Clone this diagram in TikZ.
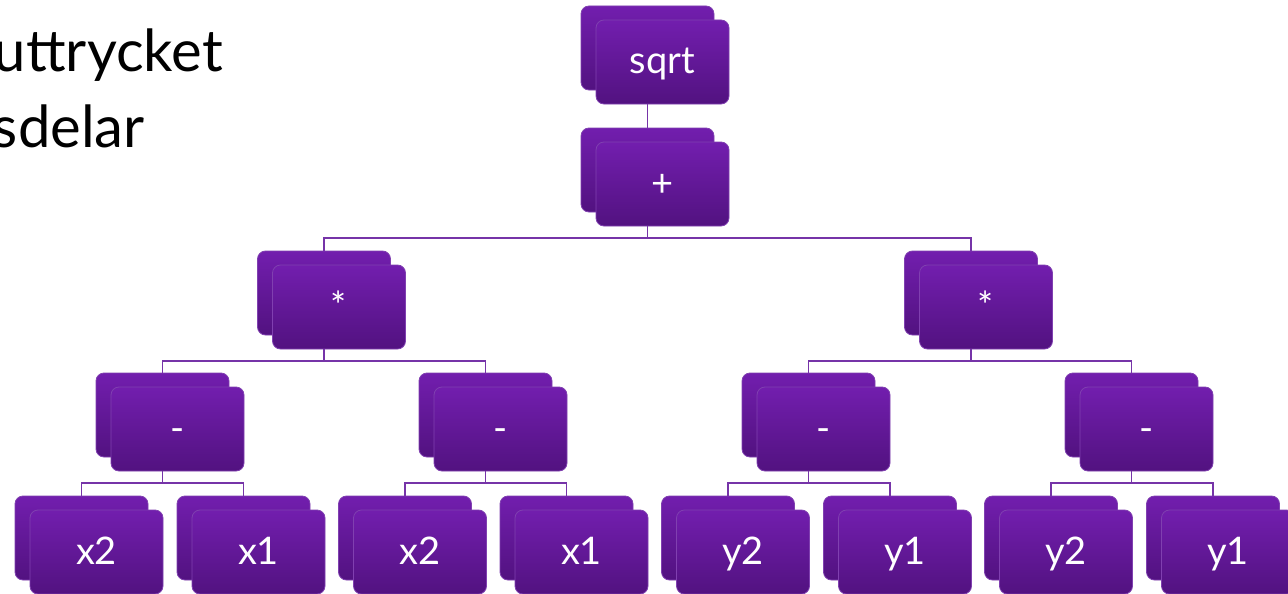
\documentclass[tikz,border=0pt]{standalone}
\usepackage{fontspec}
\setmainfont{Lato}
\definecolor{ptop}{RGB}{114,30,174}
\definecolor{pbot}{RGB}{82,18,128}
\definecolor{pedge}{RGB}{128,64,176}
\definecolor{pline}{RGB}{118,52,168}
\tikzset{
  backbox/.style={rounded corners=8pt, minimum width=133pt, minimum height=84pt,
    top color=ptop, bottom color=pbot, draw=pedge, line width=0.8pt, inner sep=0pt},
  frontbox/.style={backbox, text=white, font=\fontsize{38}{40}\selectfont,
    text height=24pt, text depth=0pt},
  conn/.style={draw=pline, line width=1.4pt},
  title/.style={font=\fontsize{58}{64}\selectfont, text=black, inner sep=0pt}
}
\newcommand{\tnode}[4]{%
  \node[backbox] (#1b) at (#2,#3) {};
  \node[frontbox] (#1) at (#2+15,#3+14) {#4};}
\newcommand{\tlink}[2]{%
  \draw[conn] (#1b |- #1.south) -- ([yshift=-11.5pt]#1b |- #1.south) -| (#2b.north);}
\begin{document}
\begin{tikzpicture}[x=1pt,y=-1pt]
\useasboundingbox (0,0) rectangle (1288,594);
\begin{scope}
\clip (0,0) rectangle (1288,594);
\node[title, anchor=base east] (t1) at (223,72) {uttrycket};
\node[title, anchor=base east] (t2) at (145,147) {sdelar};
\tnode{r}{647.5}{48}{sqrt}
\tnode{p}{647.5}{170}{+}
\tnode{ma}{324}{293}{*}
\tnode{mb}{971}{293}{*}
\tnode{sa}{162.5}{415}{-}
\tnode{sb}{485.5}{415}{-}
\tnode{sc}{808.5}{415}{-}
\tnode{sd}{1131.5}{415}{-}
\tnode{la}{81.5}{538}{x2}
\tnode{lb}{243.5}{538}{x1}
\tnode{lc}{405}{538}{x2}
\tnode{ld}{566.5}{538}{x1}
\tnode{le}{728}{538}{y2}
\tnode{lf}{890}{538}{y1}
\tnode{lg}{1051}{538}{y2}
\tnode{lh}{1213}{538}{y1}
\draw[conn] (rb |- r.south) -- (pb.north);
\tlink{p}{ma}\tlink{p}{mb}
\tlink{ma}{sa}\tlink{ma}{sb}
\tlink{mb}{sc}\tlink{mb}{sd}
\tlink{sa}{la}\tlink{sa}{lb}
\tlink{sb}{lc}\tlink{sb}{ld}
\tlink{sc}{le}\tlink{sc}{lf}
\tlink{sd}{lg}\tlink{sd}{lh}
\end{scope}
\end{tikzpicture}
\end{document}
